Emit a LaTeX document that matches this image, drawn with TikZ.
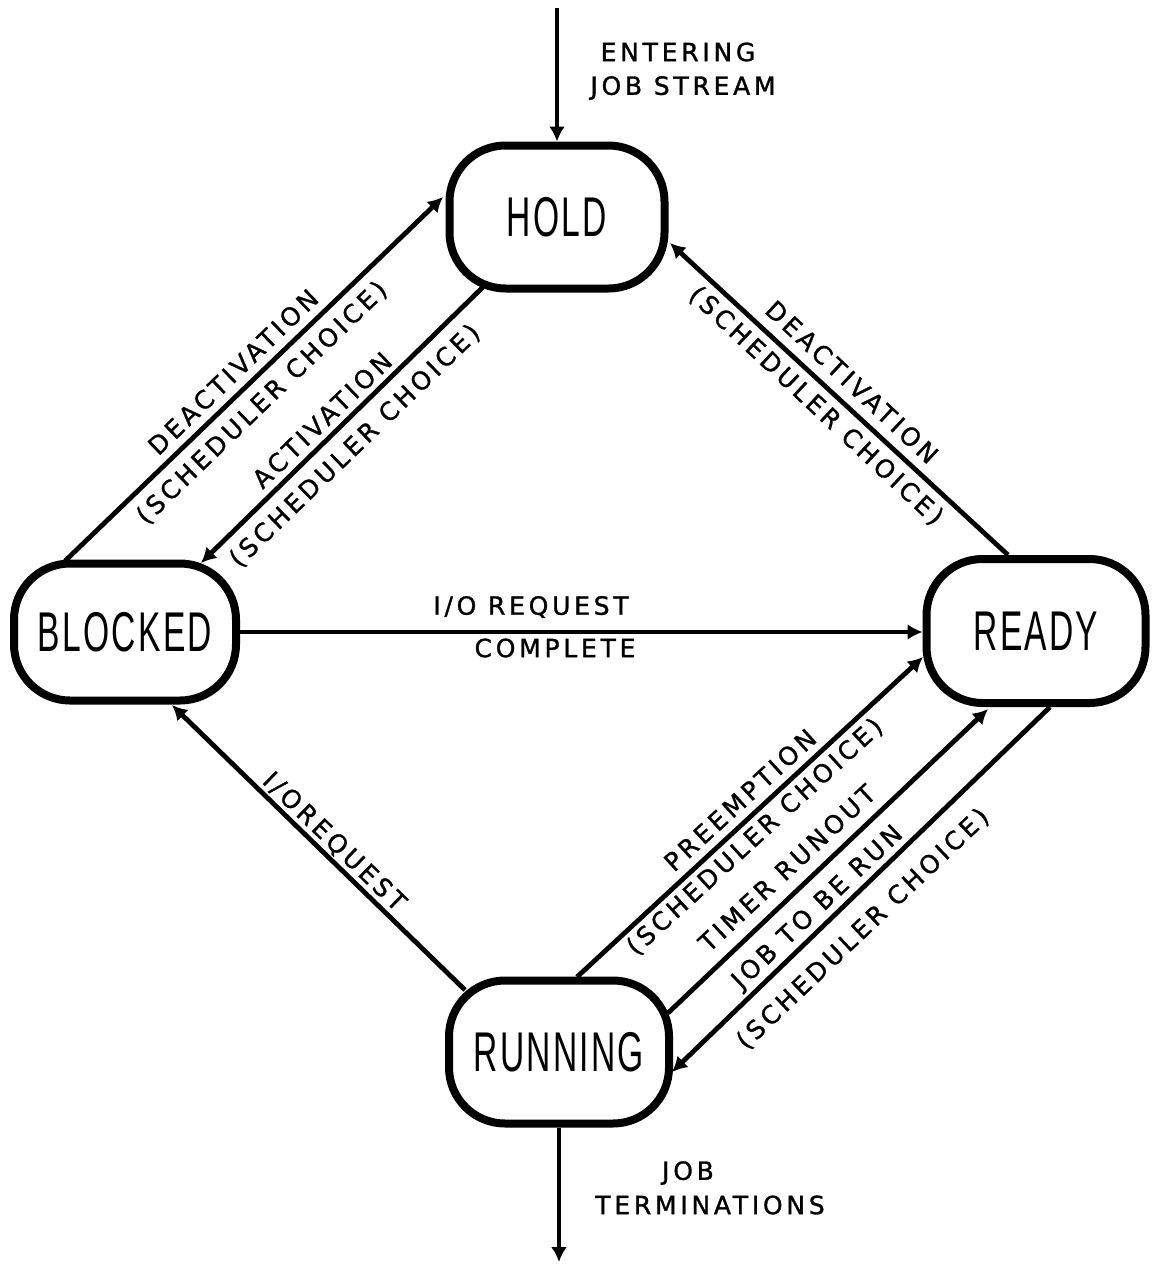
\documentclass[tikz,border=0pt]{standalone}
\usepackage{fontspec}
\setmainfont{DejaVu Sans}
\newfontfamily\statefont[FakeStretch=0.6,LetterSpace=4]{Liberation Sans}
\newfontfamily\notefont[LetterSpace=15,FakeBold=1.2]{DejaVu Sans}
\usetikzlibrary{arrows.meta}

\begin{document}
\begin{tikzpicture}[x=0.5pt,y=-0.5pt,
  state/.style={draw, line width=4pt, rounded corners=28pt, inner sep=0pt,
    font=\statefont\fontsize{28}{30}\selectfont},
  flow/.style={line width=2.4pt, -{Latex[length=7.5pt,width=8pt]}},
  note/.style={inner sep=0pt, font=\notefont\fontsize{12.5}{14}\selectfont}]

% page frame
\fill[white] (0,0) rectangle (1159,1264);
\useasboundingbox (0,0) rectangle (1159,1264);

% job states
\node[state, minimum width=107.5pt, minimum height=71.5pt] (hold)    at (557,217)  {HOLD};
\node[state, minimum width=111pt,   minimum height=68.5pt] (blocked) at (125,632)  {BLOCKED};
\node[state, minimum width=109.5pt, minimum height=72pt]   (ready)   at (1036,631) {READY};
\node[state, minimum width=110pt,   minimum height=71.5pt] (running) at (559,1052) {RUNNING};

% free ends of the entry and exit arrows
\coordinate (entry) at (557,8);
\coordinate (exit)  at (559,1262);

% transitions
\draw[flow] (entry) -- (hold.north);
\draw[flow] (running.south) -- (exit);
\draw[flow] ([shift={(-60,-71)}]blocked.center) -- ([shift={(-114,-20)}]hold.center);
\draw[flow] ([shift={(-74,70)}]hold.center) -- ([shift={(76,-69)}]blocked.center);
\draw[flow] ([shift={(-28,-76)}]ready.center) -- ([shift={(113,26)}]hold.center);
\draw[flow] (blocked.east) -- (blocked.east -| ready.west);
\draw[flow] ([shift={(-94,-62)}]running.center) -- ([shift={(47,73)}]blocked.center);
\draw[flow] ([shift={(18,-75)}]running.center) -- ([shift={(-113,26)}]ready.center);
\draw[flow] ([shift={(109,-39)}]running.center) -- ([shift={(-48,78)}]ready.center);
\draw[flow] ([shift={(14,76)}]ready.center) -- ([shift={(113,20)}]running.center);

% transition labels
\node[note] (enter1) at (678,52) {ENTERING};
\node[note] (enter2) at (683,88) {JOB STREAM};
\node[note] (term1) at (688,1173) {JOB};
\node[note] (term2) at (710,1205) {TERMINATIONS};

\node[note, rotate=44] (deactL)  at (233,372) {DEACTIVATION};
\node[note, rotate=44] (deactLs) at (262,403) {(SCHEDULER CHOICE)};
\node[note, rotate=44] (act)     at (322,420) {ACTIVATION};
\node[note, rotate=44] (acts)    at (355,446) {(SCHEDULER CHOICE)};

\node[note, rotate=-43] (deactR)  at (852,382) {DEACTIVATION};
\node[note, rotate=-43] (deactRs) at (816,406) {(SCHEDULER CHOICE)};

\node[note] (iodone1) at (531,607) {I/O REQUEST};
\node[note] (iodone2) at (555,648) {COMPLETE};

\node[note, rotate=-44] (ioreq) at (334,842) {I/OREQUEST};

\node[note, rotate=42.5] (pre)   at (740,800) {PREEMPTION};
\node[note, rotate=42.5] (pres)  at (755,837) {(SCHEDULER CHOICE)};
\node[note, rotate=43]   (timer) at (787,868) {TIMER RUNOUT};
\node[note, rotate=43.5] (job)   at (818,908) {JOB TO BE RUN};
\node[note, rotate=43.5] (jobs)  at (863,929) {(SCHEDULER CHOICE)};
\end{tikzpicture}
\end{document}
